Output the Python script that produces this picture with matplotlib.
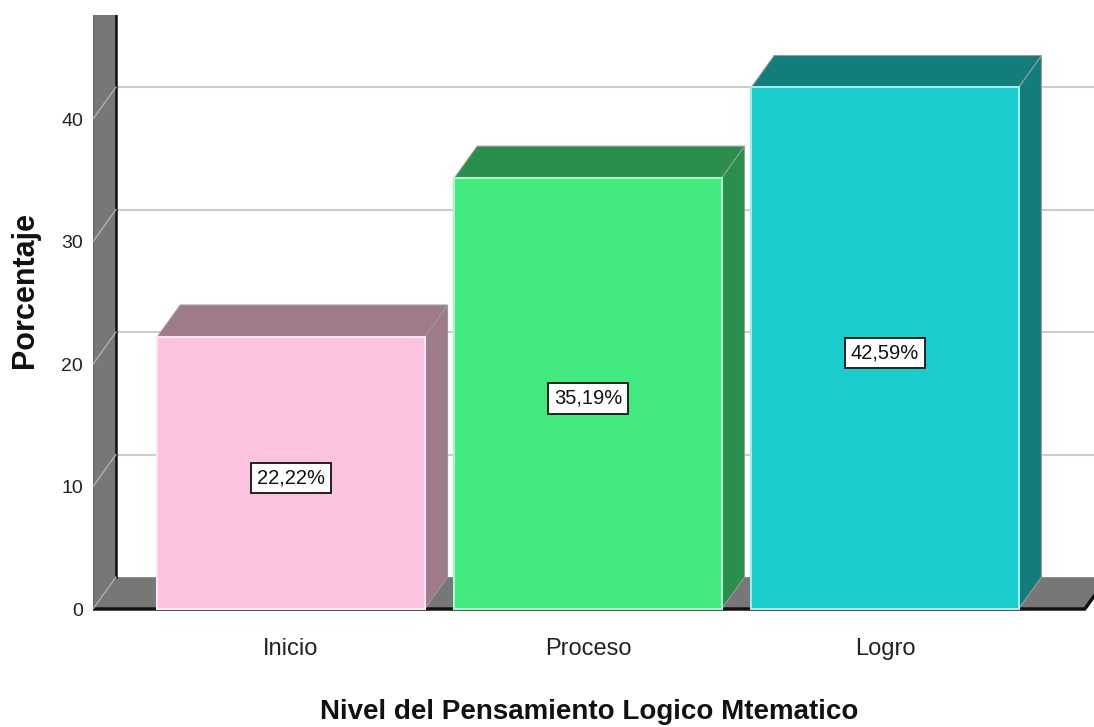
import matplotlib.pyplot as plt
from matplotlib.patches import Polygon

niveles = ['Inicio', 'Proceso', 'Logro']
porcentajes = [22.22, 35.19, 42.59]
etiquetas = ['22,22%', '35,19%', '42,59%']
yticks = [0, 10, 20, 30, 40]

frente = ['#fcc3e1', '#42e97f', '#1ccdcd']
sombra = ['#9e7a8a', '#2a8e4c', '#127d7c']
borde = ['#fde6f2', '#a8f7c6', '#9eeeee']

ANCHO = 0.9     # bar width, category units
DX = 0.077      # depth offset along x
DY = 2.6        # depth offset along y (percent units)
X0 = -0.667     # front edge of the side wall
XF = 2.673      # front right corner of the floor
GRIS = '#777777'
FUENTE = ['Liberation Sans', 'DejaVu Sans']

fig = plt.figure(figsize=(10.94, 7.27), dpi=100)
ax = fig.add_axes([0.085, 0.1623, 0.915, 0.8171])
ax.set_xlim(X0, 2.704)
ax.set_ylim(0, 48.5)
for s in ax.spines.values():
    s.set_visible(False)

# back wall grid
for t in yticks[1:]:
    ax.plot([X0 + DX, 3.0], [t + DY, t + DY], color='#cccccc', lw=1.5, zorder=1)

# side wall and floor
ax.add_patch(Polygon([(X0, 0), (X0 + DX, DY), (X0 + DX, 60), (X0, 60)],
                     fc=GRIS, ec='#555555', lw=0.8, zorder=2))
ax.add_patch(Polygon([(X0, 0), (XF, 0), (XF + DX, DY), (X0 + DX, DY)],
                     fc=GRIS, ec='none', zorder=2, clip_on=False))
ax.plot([X0 + DX, X0 + DX], [DY, 60], color='#111111', lw=1.8, zorder=3)
ax.plot([X0, XF, XF + DX], [0, 0, DY], color='#111111', lw=2.5,
        zorder=2.5, clip_on=False, solid_capstyle='butt')
for t in yticks:
    ax.plot([X0, X0 + DX], [t, t + DY], color='#b0b0b0', lw=1, zorder=3)

# 3D bars
for i, v in enumerate(porcentajes):
    xl, xr = i - ANCHO / 2, i + ANCHO / 2
    ax.add_patch(Polygon([(xr, 0), (xr + DX, DY), (xr + DX, v + DY), (xr, v)],
                         fc=sombra[i], ec='#9a9a9a', lw=0.8, zorder=4))
    ax.add_patch(Polygon([(xl, v), (xr, v), (xr + DX, v + DY), (xl + DX, v + DY)],
                         fc=sombra[i], ec='#9a9a9a', lw=0.8, zorder=4))
    ax.add_patch(Polygon([(xl, 0), (xr, 0), (xr, v), (xl, v)],
                         fc=frente[i], ec=borde[i], lw=1.5, zorder=5,
                         clip_on=False))
    ax.text(i, v / 2 - 0.4, etiquetas[i], ha='center', va='center',
            fontsize=14.5, family=FUENTE, color='#111111', zorder=6,
            bbox=dict(boxstyle='square,pad=0.28', fc='white', ec='#111111', lw=1.3))

ax.set_xticks(range(len(niveles)), niveles, fontsize=17, family=FUENTE,
              color='#222222')
ax.set_yticks(yticks, [str(t) for t in yticks], fontsize=14, family=FUENTE,
              color='#222222')
ax.tick_params(axis='x', length=0, pad=21)
ax.tick_params(axis='y', length=0, pad=7.2)

fig.text(0.539, 0.011, 'Nivel del Pensamiento Logico Mtematico', ha='center',
         va='baseline', fontsize=20, fontweight='bold', family=FUENTE,
         color='#111111')
fig.text(0.0302, 0.601, 'Porcentaje', rotation=90, rotation_mode='anchor',
         ha='center', va='baseline', fontsize=22, fontweight='bold',
         family=FUENTE, color='#111111')

fig.savefig('out.png', dpi=100)
